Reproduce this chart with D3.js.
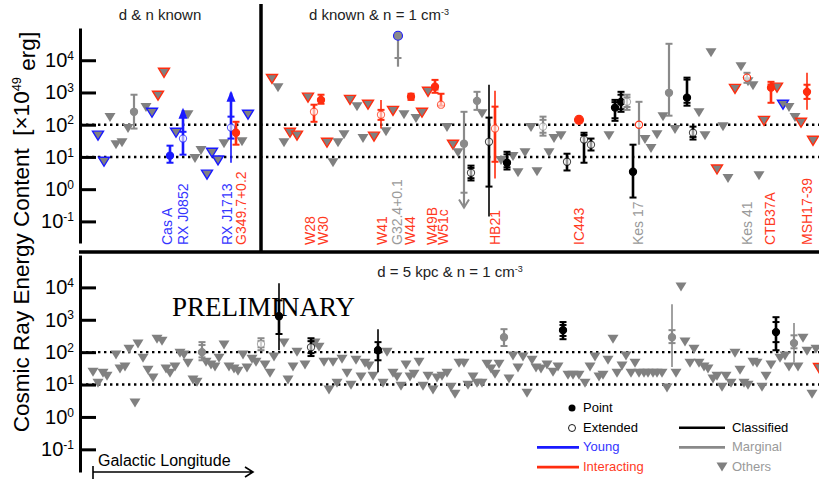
<!DOCTYPE html>
<html><head><meta charset="utf-8">
<script src="https://cdn.jsdelivr.net/npm/d3@7"></script>
<style>body{margin:0;background:#fff} text{font-family:"Liberation Sans",Arial,sans-serif}</style>
</head><body><svg id="c" width="819" height="484"></svg>
<script>
// ---- data (energies stored as log10 of E / 1e49 erg; x = order along Galactic longitude) ----
const tickValues = [0.1, 1, 10, 100, 1000, 10000];
const tickExp = ["-1", "0", "1", "2", "3", "4"];
const refLevels = [100, 10];

// upper limits (triangles): [order, log10E, outlineClass]
const topLimits = [
 [98,1.66,"Y"],[104,0.85,"Y"],[110,2.22,""],[116,1.38,""],[122,1.44,""],[128,1.88,""],[146,2.53,""],[152,2.37,"Y"],[158,2.90,"I"],[164,3.61,"I"],[176,1.75,"Y"],[188,2.31,""],[195,0.95,""],[201,1.20,""],[207,0.45,"Y"],[212,1.13,"Y"],[218,0.89,"Y"],[224,1.41,""],[242,1.47,""],[248,2.31,"Y"],
 [272,3.42,"I"],[278,3.15,""],[284,1.44,""],[290,1.75,"I"],[297,1.66,"I"],[308,2.84,"I"],[327,1.44,"I"],[333,0.82,""],[338,1.44,""],[344,1.69,""],[350,2.77,"I"],[357,2.56,""],[363,1.57,""],[368,2.62,"I"],[374,1.63,"I"],[386,1.78,""],[393,2.43,"I"],[404,2.31,""],[416,2.19,""],[422,2.37,"I"],[428,3.02,"I"],[447,1.91,""],[453,1.38,"I"],[458,1.13,""],[482,2.34,""],[501,0.89,""],[513,1.01,""],[518,0.51,""],[525,1.13,""],[531,1.91,""],[537,0.54,""],[549,1.13,""],[554,1.57,""],[561,1.66,""],[609,1.66,""],[645,1.54,""],[651,1.26,""],[657,1.69,""],[663,2.25,""],[675,1.85,""],[699,2.37,""],[705,1.66,""],[711,4.23,""],[717,0.61,"I"],[723,1.94,""],[728,0.33,""],[735,3.11,"I"],[741,3.80,""],[748,3.33,""],[753,3.21,""],[759,0.42,""],[764,2.12,"I"],[777,3.15,"I"],[783,2.62,"Y"],[789,2.53,""],[795,2.22,""],[801,2.06,"I"],[813,1.50,"I"]
];

const bottomLimits = [
 [93,1.38],[98,1.04],[103,1.35],[107,1.26],[116,1.91],[120,1.48],[125,1.54],[129,2.09],[135,0.43],[138,2.25],[143,1.81],[148,1.44],[153,1.20],[157,2.40],[162,2.34],[166,1.48],[170,1.35],[175,1.54],[180,1.97],[184,1.91],[188,1.66],[193,1.14],[197,1.07],[206,1.69],[211,1.60],[215,1.54],[219,1.81],[224,2.22],[229,1.54],[234,1.48],[238,1.41],[243,1.91],[247,1.51],[252,1.78],[256,1.69],[265,1.60],[270,1.35],[274,1.85],[284,2.28],[288,1.14],[293,1.54],[297,2.00],[305,1.60],[315,2.28],[319,2.15],[324,1.69],[329,0.83],[333,1.69],[337,1.04],[342,1.78],[347,1.35],[351,0.98],[356,1.75],[361,1.23],[365,1.66],[369,1.57],[373,1.26],[383,1.04],[387,2.00],[393,1.35],[397,1.23],[401,0.95],[406,1.60],[410,1.23],[414,1.32],[419,1.69],[423,0.95],[428,1.26],[433,0.83],[437,1.20],[442,1.26],[447,1.35],[451,0.92],[455,0.70],[459,1.66],[464,1.66],[468,0.98],[473,1.23],[477,1.04],[482,1.04],[487,1.63],[491,1.48],[495,1.32],[499,1.63],[509,1.17],[513,1.88],[518,1.51],[523,1.85],[527,0.73],[532,1.75],[536,1.51],[541,1.48],[547,1.60],[553,1.38],[558,1.54],[568,1.29],[573,1.29],[579,1.29],[585,1.04],[590,1.54],[595,1.85],[599,1.23],[603,1.29],[608,1.75],[613,2.40],[617,1.35],[622,1.57],[626,1.88],[631,1.35],[635,1.66],[639,1.35],[644,1.35],[648,1.35],[653,1.35],[657,1.35],[662,1.35],[667,0.89],[676,1.35],[681,4.01],[685,2.31],[690,1.66],[694,2.09],[699,1.66],[704,1.54],[708,1.48],[713,1.17],[717,1.26],[722,0.92],[726,1.26],[731,1.04],[735,1.97],[740,1.44],[744,1.04],[748,0.98],[753,1.69],[757,1.66],[762,0.92],[766,1.26],[771,1.60],[780,1.81],[785,1.88],[789,1.54],[798,1.54],[803,2.43],[807,2.03],[812,0.70],[816,2.09],[819,1.51,"I"]
];

// detections: x order, e = log10E, lo/hi = full range, tLo/tHi = inner (thick) range, caps, cls, ext (extended), arrow, ring
const topMeasures = [
 {x:134,e:2.40,lo:1.88,hi:2.93,cls:"M"},
 {x:170,e:1.04,lo:0.82,hi:1.35,cls:"Y"},
 {x:183,e:1.57,lo:1.07,hi:2.46,caps:[1.07,1.78],cls:"Y",ext:1,arrow:"up"},
 {x:231,e:1.91,lo:0.82,hi:2.99,tLo:1.57,tHi:2.99,caps:[1.57,2.25],cls:"Y",ext:1,arrow:"up"},
 {x:236,e:1.75,lo:1.38,hi:2.09,cls:"I"},
 {x:314,e:2.40,lo:2.09,hi:2.62,cls:"I",ext:1},
 {x:321,e:2.77,lo:2.65,hi:2.93,cls:"I"},
 {x:381,e:2.31,lo:1.88,hi:2.77,tLo:2.15,tHi:2.46,caps:[2.15,2.46],cls:"I",ext:1},
 {x:398,e:4.76,lo:3.80,hi:4.76,caps:[4.07],cls:"M",ring:"Y"},
 {x:411,e:2.87,lo:2.77,hi:2.96,cls:"I"},
 {x:435,e:3.18,lo:2.99,hi:3.39,caps:[2.99,3.09,3.39],cls:"I"},
 {x:441,e:2.62,lo:2.59,hi:2.96,cls:"I",ext:1},
 {x:464,e:1.41,lo:-0.57,hi:2.40,caps:[-0.11,2.40],cls:"M",arrow:"down"},
 {x:471,e:0.51,lo:0.27,hi:0.73,caps:[0.27,0.34,0.66,0.73],cls:"C",ext:1},
 {x:477,e:2.74,lo:2.46,hi:3.02,cls:"M"},
 {x:489,e:1.47,lo:-0.85,hi:3.24,tLo:0.08,tHi:2.22,caps:[0.08,2.22],cls:"C",ext:1},
 {x:495,e:1.88,lo:0.33,hi:3.05,tLo:0.85,tHi:2.56,caps:[0.85,2.56],cls:"I",ext:1},
 {x:507,e:0.82,lo:0.61,hi:1.16,caps:[0.61,0.68,1.08,1.16],cls:"C"},
 {x:543,e:1.94,lo:1.66,hi:2.25,caps:[1.66,1.75,2.15,2.25],cls:"M",ext:1},
 {x:567,e:0.85,lo:0.58,hi:1.10,cls:"C",ext:1},
 {x:579,e:2.15,cls:"I"},
 {x:584,e:1.54,lo:0.82,hi:1.75,caps:[0.82,1.68,1.75],cls:"C",ext:1},
 {x:591,e:1.38,lo:1.20,hi:1.57,cls:"C",ext:1},
 {x:615,e:2.53,lo:2.12,hi:2.77,caps:[2.12,2.20,2.70,2.77],cls:"C"},
 {x:621,e:2.71,lo:2.40,hi:3.02,caps:[2.40,2.48,2.93,3.02],cls:"C"},
 {x:627,e:2.71,lo:2.46,hi:2.93,caps:[2.46,2.55,2.85,2.93],cls:"M",ext:1},
 {x:633,e:0.54,lo:-0.26,hi:1.38,cls:"C"},
 {x:639,e:2.00,lo:1.38,hi:2.71,caps:[2.71],cls:"M",ext:1,ring:"I"},
 {x:669,e:2.99,lo:2.28,hi:4.51,cls:"M"},
 {x:687,e:2.84,lo:2.59,hi:3.46,caps:[2.59,2.68,3.40,3.46],cls:"C"},
 {x:693,e:1.75,lo:1.54,hi:1.94,caps:[1.54,1.62,1.94],cls:"C",ext:1},
 {x:747,e:3.46,lo:3.30,hi:3.61,cls:"M",ext:1,ring:"I"},
 {x:771,e:3.15,lo:2.68,hi:3.33,caps:[2.68,3.25,3.33],cls:"I"},
 {x:807,e:3.02,lo:2.46,hi:3.61,tLo:2.80,tHi:3.24,caps:[2.80,3.24],cls:"I"}
];

const bottomMeasures = [
 {x:202,e:2.00,lo:1.75,hi:2.31,caps:[1.75,1.84,2.22,2.31],cls:"M"},
 {x:261,e:2.25,lo:2.06,hi:2.43,caps:[2.06,2.15,2.34,2.43],cls:"M",ext:1},
 {x:279,e:3.11,lo:2.06,hi:4.13,tLo:2.56,tHi:3.60,caps:[2.56,3.60],cls:"C"},
 {x:311,e:2.15,lo:1.88,hi:2.43,caps:[1.88,1.97,2.34,2.43],cls:"C",ext:1},
 {x:378,e:2.06,lo:1.38,hi:2.71,tLo:1.75,tHi:2.31,caps:[1.75,2.31],cls:"C"},
 {x:504,e:2.46,lo:2.19,hi:2.71,cls:"M"},
 {x:563,e:2.68,lo:2.40,hi:2.93,caps:[2.40,2.50,2.84,2.93],cls:"C"},
 {x:672,e:2.46,lo:1.54,hi:3.48,tLo:2.28,tHi:2.68,caps:[2.28,2.68],cls:"M"},
 {x:776,e:2.62,lo:2.06,hi:3.08,caps:[2.06,2.31,2.93,3.08],cls:"C"},
 {x:794,e:2.28,lo:1.69,hi:2.90,tLo:2.12,tHi:2.52,caps:[2.12,2.52],cls:"M"}
];

// SNR names under the upper panel: [name, order, class]
const topLabels = [
 ["Cas A",167,"Y"],["RX J0852",183,"Y"],["RX J1713",227,"Y"],["G349.7+0.2",241,"I"],
 ["W28",310,"I"],["W30",323,"I"],["W41",382,"I"],["G32.4+0.1",397,"M"],["W44",410,"I"],
 ["W49B",432,"I"],["W51c",443,"I"],["HB21",495,"I"],["IC443",579,"I"],["Kes 17",638,"M"],
 ["Kes 41",747,"M"],["CTB37A",770,"I"],["MSH17-39",807,"I"]
];
const panelTitles = ["d & n known", "d known & n = 1 cm", "d = 5 kpc & n = 1 cm"];
const legendMarkers = ["Point", "Extended"];
const legendClasses = [["Young","Y"],["Interacting","I"],["Classified","C"],["Marginal","M"]];

// ---- drawing ----
const COL = {C:"#000000", M:"#8a8a8a", Y:"#1a1aff", I:"#ff2d0f"};
const TXT = {C:"#000000", M:"#9a9a9a", Y:"#3535ff", I:"#ff3a1f"};
const svg = d3.select("#c");
const pw = v => Math.pow(10, v);
const x = d3.scaleLinear().domain([80, 819]).range([80, 819]);
const yTop = d3.scaleLog().domain([pw(-1.67), 1e5]).range([243, 28]);
const yBot = d3.scaleLog().domain([pw(-1.70), 1e5]).range([472, 255]);

function drawPanel(y, limits, measures) {
  const g = svg.append("g");
  refLevels.forEach(r => g.append("line")
    .attr("x1", x(80)).attr("x2", x(819)).attr("y1", y(r)).attr("y2", y(r))
    .attr("stroke", "#000").attr("stroke-width", 2.4).attr("stroke-dasharray", "2.4,3.6"));
  g.selectAll("path.tri").data(limits).join("path").attr("class","tri")
    .attr("d", d => { const cx = x(d[0]), cy = y(pw(d[1])); return `M${cx-5.5},${cy-4.5}L${cx+5.5},${cy-4.5}L${cx},${cy+4.5}Z`; })
    .attr("fill", "#808080")
    .attr("stroke", d => d[2] ? COL[d[2]] : "none").attr("stroke-width", 1.4);
  measures.forEach(m => {
    const c = COL[m.cls], cx = x(m.x), gg = g.append("g");
    if (m.lo != null) {
      const split = m.tLo != null;
      const wThick = m.cls === "M" ? 2.2 : 2.6;
      gg.append("line").attr("x1", cx).attr("x2", cx).attr("y1", y(pw(m.lo))).attr("y2", y(pw(m.hi)))
        .attr("stroke", c).attr("stroke-width", split ? 1.6 : wThick);
      if (split) gg.append("line").attr("x1", cx).attr("x2", cx).attr("y1", y(pw(m.tLo))).attr("y2", y(pw(m.tHi)))
        .attr("stroke", c).attr("stroke-width", wThick);
      (m.caps || [m.lo, m.hi]).forEach(cv => gg.append("line")
        .attr("x1", cx - 3.5).attr("x2", cx + 3.5).attr("y1", y(pw(cv))).attr("y2", y(pw(cv)))
        .attr("stroke", c).attr("stroke-width", 2));
      if (m.arrow === "up") {
        const ty = y(pw(m.hi));
        gg.append("path").attr("d", `M${cx},${ty-2}L${cx-4.5},${ty+9}L${cx+4.5},${ty+9}Z`).attr("fill", c);
      }
      if (m.arrow === "down") {
        const ty = y(pw(m.lo));
        gg.append("path").attr("d", `M${cx-5},${ty-8}L${cx},${ty}L${cx+5},${ty-8}`)
          .attr("fill", "none").attr("stroke", c).attr("stroke-width", 2);
      }
    }
    const ring = m.ring ? COL[m.ring] : c;
    gg.append("circle").attr("cx", cx).attr("cy", y(pw(m.e)))
      .attr("r", m.ring && !m.ext ? 4.5 : (m.lo == null ? 4.5 : 3.6))
      .attr("fill", m.ext ? "#fff" : c).attr("fill-opacity", m.ext ? 0.6 : 1)
      .attr("stroke", ring).attr("stroke-width", 1.1).attr("stroke-opacity", m.ext && !m.ring ? 0.7 : 1);
  });
  // axis
  const ax = d3.axisLeft(y).tickValues(tickValues).tickSize(-16).tickSizeOuter(0).tickPadding(6).tickFormat(() => "");
  const ag = svg.append("g").attr("transform", `translate(${x(80)},0)`).call(ax);
  ag.select(".domain").attr("stroke-width", 3);
  ag.selectAll(".tick line").attr("stroke-width", 3);
  ag.selectAll(".tick text").each(function(d) {
    const t = d3.select(this).attr("font-size", 20).attr("fill", "#000");
    t.append("tspan").text("10");
    t.append("tspan").attr("dy", "-0.6em").attr("font-size", 12).text(tickExp[tickValues.indexOf(d)]);
  });
}

drawPanel(yTop, topLimits, topMeasures);
drawPanel(yBot, bottomLimits.map(d => [d[0], d[1], d[2] || ""]), bottomMeasures);

// frame lines
svg.append("line").attr("x1", x(261)).attr("x2", x(261)).attr("y1", 4).attr("y2", 253).attr("stroke", "#000").attr("stroke-width", 3.5);
svg.append("line").attr("x1", x(79)).attr("x2", x(819)).attr("y1", 252).attr("y2", 252).attr("stroke", "#000").attr("stroke-width", 3.5);

// labels under top panel
svg.selectAll("text.snr").data(topLabels).join("text").attr("class", "snr")
  .attr("transform", d => `translate(${x(d[1]) + 5},245) rotate(-90)`)
  .attr("font-size", 14).attr("fill", d => TXT[d[2]]).text(d => d[0]);

// titles
function supTitle(tx, ty, txt) {
  const t = svg.append("text").attr("x", tx).attr("y", ty).attr("font-size", 15).attr("text-anchor", "middle").attr("fill", "#222");
  t.append("tspan").text(txt);
  if (txt.endsWith("cm")) t.append("tspan").attr("dy", "-0.55em").attr("font-size", 9).text("-3");
}
supTitle(160, 20, panelTitles[0]);
supTitle(379, 20, panelTitles[1]);
supTitle(450, 277, panelTitles[2]);

// y title
const yt = svg.append("text").attr("transform", "translate(29,232) rotate(-90)").attr("text-anchor", "middle")
  .attr("font-size", 22.5).attr("fill", "#000").style("white-space", "pre");
yt.append("tspan").text("Cosmic Ray Energy Content  [×10");
yt.append("tspan").attr("dy", "-0.6em").attr("font-size", 13).text("49");
yt.append("tspan").attr("dy", "0.6em").text(" erg]");

// PRELIMINARY
svg.append("text").attr("x", 172).attr("y", 316).style("font-family", "'Liberation Serif', 'Times New Roman', serif")
  .attr("font-size", 27).attr("fill", "#000").text("PRELIMINARY");

// Galactic longitude arrow
svg.append("text").attr("x", 98).attr("y", 466).attr("font-size", 16).attr("fill", "#000").text("Galactic Longitude");
svg.append("path").attr("d", "M93,472H253M93,466V479M245,467L253,472L245,477").attr("fill", "none").attr("stroke", "#000").attr("stroke-width", 1.6);

// legend
const lg = svg.append("g").attr("font-size", 13);
lg.append("circle").attr("cx", 572).attr("cy", 408).attr("r", 3.5).attr("fill", "#000");
lg.append("circle").attr("cx", 572).attr("cy", 428).attr("r", 3.5).attr("fill", "#fff").attr("stroke", "#000").attr("stroke-width", 0.9);
legendMarkers.forEach((t, i) => lg.append("text").attr("x", 583).attr("y", 412 + i * 20).attr("fill", "#000").text(t));
legendClasses.forEach((d, i) => {
  const col = i < 2 ? 0 : 1, row = i < 2 ? i + 2 : i - 1;
  const ly = 408 + row * 19.7;
  const x1 = col === 0 ? 537 : 679, x2 = col === 0 ? 579 : 725, tx = col === 0 ? 583 : 732;
  lg.append("line").attr("x1", x1).attr("x2", x2).attr("y1", ly).attr("y2", ly).attr("stroke", COL[d[1]]).attr("stroke-width", 2.6);
  lg.append("text").attr("x", tx).attr("y", ly + 4).attr("fill", TXT[d[1]]).text(d[0]);
});
lg.append("path").attr("d", "M716.5,462.5L727.5,462.5L722,471.5Z").attr("fill", "#808080");
lg.append("text").attr("x", 732).attr("y", 471).attr("fill", TXT.M).text("Others");
</script></body></html>
